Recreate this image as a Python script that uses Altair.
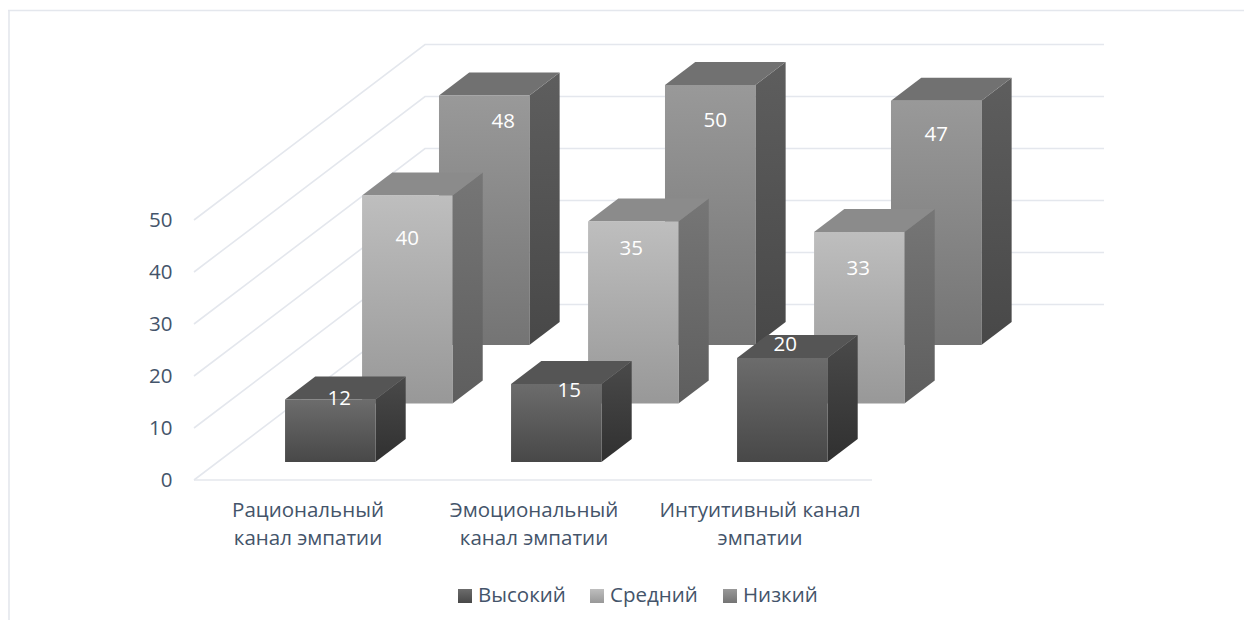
import altair as alt
import pandas as pd

# ---- data ----
categories = ["Рациональный\nканал эмпатии", "Эмоциональный\nканал эмпатии", "Интуитивный канал\nэмпатии"]
series_names = ["Высокий", "Средний", "Низкий"]
vysokiy = [12, 15, 20]
sredniy = [40, 35, 33]
nizkiy = [48, 50, 47]
y_ticks = [0, 10, 20, 30, 40, 50]

# ---- layout (page pixels) ----
W, H = 1236, 612
PAGE = 8
FLOOR_X, FLOOR_Y = 194, 480
WALL_X, WALL_RIGHT = 425, 1104
FLOOR_RIGHT = 872
CAT_PX = 226
UNIT_PX = 5.2
DEPTH_PX = (231, 175.5)
TOP_FRAME_Y, LEFT_FRAME_X = 10.5, 9
TEXT_DROP = 1.2

x_lo = -(FLOOR_X - PAGE) / CAT_PX
x_hi = x_lo + W / CAT_PX
y_hi = (FLOOR_Y - PAGE) / UNIT_PX
y_lo = y_hi - H / UNIT_PX


def px_x(p):
    return (p - FLOOR_X) / CAT_PX


def px_y(p):
    return (FLOOR_Y - p) / UNIT_PX


DX = DEPTH_PX[0] / CAT_PX
DY = DEPTH_PX[1] / UNIT_PX
BAR_START = 0.298
BAR_WIDTH = 0.4
BAR_DEPTH = 0.131
SERIES_DEPTH = [0.1026, 0.436, 0.769]

xs = alt.Scale(domain=[x_lo, x_hi], range=[0, W], nice=False, zero=False)
ys = alt.Scale(domain=[y_lo, y_hi], range=[H, 0], nice=False, zero=False)
X = alt.X("x:Q", scale=xs, axis=None, stack=None)
Y = alt.Y("y:Q", scale=ys, axis=None, stack=None)
X2 = alt.X2("x2:Q")
Y2 = alt.Y2("y2:Q")


def grad(a, b):
    return {"gradient": "linear", "x1": 0, "x2": 0, "y1": 0, "y2": 1,
            "stops": [{"offset": 0, "color": a}, {"offset": 1, "color": b}]}


front_cols = [("#6c6c6c", "#484848"), ("#bebebe", "#989898"), ("#999999", "#747474")]
side_cols = [("#4a4a4a", "#303030"), ("#767676", "#5e5e5e"), ("#5e5e5e", "#484848")]
top_cols = ["#555555", "#8b8b8b", "#717171"]
GRID = "#e4e7ed"
TEXT = "#44546a"
FONT = "Open Sans"
FS = 20.5

# label nudges in pixels (dx, dy from bar centre / bar top), per series then category
label_nudge = [
    [(9, -1), (13, 7), (3, -13)],
    [(0, 44), (-2, 28), (-1, 37)],
    [(19, 27), (5, 36), (0, 34)],
]

layers = []

# frame
frame = pd.DataFrame([
    {"k": "top", "x": px_x(PAGE), "y": px_y(TOP_FRAME_Y)},
    {"k": "top", "x": px_x(PAGE + W), "y": px_y(TOP_FRAME_Y)},
    {"k": "left", "x": px_x(LEFT_FRAME_X), "y": px_y(TOP_FRAME_Y)},
    {"k": "left", "x": px_x(LEFT_FRAME_X), "y": px_y(PAGE + H)},
])
layers.append(alt.Chart(frame).mark_line(color=GRID, strokeWidth=1.6).encode(x=X, y=Y, detail="k:N"))

# gridlines: each tick runs across the floor depth and along the back wall
rows = []
for t in y_ticks:
    rows += [
        {"k": t, "o": 0, "x": 0, "y": t},
        {"k": t, "o": 1, "x": DX, "y": t + DY},
        {"k": t, "o": 2, "x": px_x(WALL_RIGHT), "y": t + DY},
    ]
rows += [{"k": -1, "o": 0, "x": 0, "y": 0}, {"k": -1, "o": 1, "x": px_x(FLOOR_RIGHT), "y": 0}]
layers.append(alt.Chart(pd.DataFrame(rows)).mark_line(color=GRID, strokeWidth=1.6).encode(
    x=X, y=Y, detail="k:N", order="o:Q"))

series_values = [vysokiy, sredniy, nizkiy]
labels = []
for s in [2, 1, 0]:
    d = SERIES_DEPTH[s]
    fr, si, to = [], [], []
    for c, v in enumerate(series_values[s]):
        xl = c + BAR_START + d * DX
        xr = xl + BAR_WIDTH
        base = d * DY
        top = base + v
        ox = BAR_DEPTH * DX
        oy = BAR_DEPTH * DY
        fr.append({"x": xl, "x2": xr, "y": top, "y2": base})
        si += [{"k": c, "x": xr, "y": top, "y2": base},
               {"k": c, "x": xr + ox, "y": top + oy, "y2": base + oy}]
        to += [{"k": c, "y": top, "x": xl, "x2": xr},
               {"k": c, "y": top + oy, "x": xl + ox, "x2": xr + ox}]
        nx, ny = label_nudge[s][c]
        labels.append({"x": (xl + xr) / 2 + nx / CAT_PX, "y": top - ny / UNIT_PX, "t": str(v)})
    layers.append(alt.Chart(pd.DataFrame(si)).mark_area(
        color=grad(*side_cols[s]), orient="vertical", interpolate="linear").encode(
        x=X, y=Y, y2=Y2, detail="k:N"))
    layers.append(alt.Chart(pd.DataFrame(to)).mark_area(
        color=top_cols[s], orient="horizontal", interpolate="linear").encode(
        x=X, x2=X2, y=Y, detail="k:N"))
    layers.append(alt.Chart(pd.DataFrame(fr)).mark_rect(
        color=grad(*front_cols[s])).encode(
        x=X, x2=X2, y=Y, y2=Y2))

# value labels
layers.append(alt.Chart(pd.DataFrame(labels)).mark_text(
    color="white", font=FONT, fontSize=FS, align="center", baseline="middle").encode(
    x=X, y=Y, text="t:N"))

# y axis labels
tick_df = pd.DataFrame({"x": [px_x(172.5)] * len(y_ticks),
                        "y": [t - TEXT_DROP / UNIT_PX for t in y_ticks],
                        "t": [str(t) for t in y_ticks]})
layers.append(alt.Chart(tick_df).mark_text(
    color=TEXT, font=FONT, fontSize=FS, align="right", baseline="middle").encode(
    x=X, y=Y, text="t:N"))

# category labels
cat_first = 308
cat_df = pd.DataFrame({"x": [px_x(cat_first + i * CAT_PX) for i in range(3)],
                       "y": [px_y(510 + TEXT_DROP)] * 3,
                       "t": categories})
layers.append(alt.Chart(cat_df).transform_calculate(lab="split(datum.t, '\\n')").mark_text(
    color=TEXT, font=FONT, fontSize=FS, align="center", baseline="middle", lineHeight=28).encode(
    x=X, y=Y, text="lab:N"))

# legend
sw_x = [458, 590, 723]
tx_x = [478, 610, 743]
leg_cols = front_cols
for i, name in enumerate(series_names):
    sw = pd.DataFrame([{"x": px_x(sw_x[i]), "x2": px_x(sw_x[i] + 14), "y": px_y(589), "y2": px_y(603)}])
    layers.append(alt.Chart(sw).mark_rect(color=grad(*leg_cols[i])).encode(x=X, x2=X2, y=Y, y2=Y2))
leg_df = pd.DataFrame({"x": [px_x(p) for p in tx_x], "y": [px_y(595.5)] * 3, "t": series_names})
layers.append(alt.Chart(leg_df).mark_text(
    color=TEXT, font=FONT, fontSize=FS, align="left", baseline="middle").encode(
    x=X, y=Y, text="t:N"))

chart = alt.layer(*layers).properties(
    width=W, height=H, padding=0, autosize=alt.AutoSizeParams(type="none"), background="white"
).configure_view(stroke=None)

chart.save("out.html", embed_options={"renderer": "svg", "actions": False})
